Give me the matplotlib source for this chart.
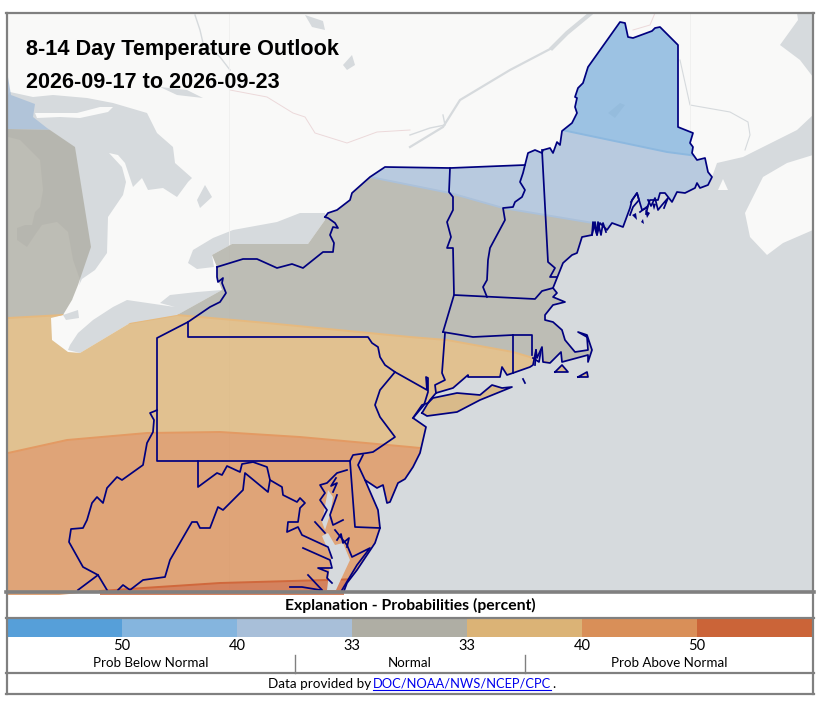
#!/usr/bin/env python3
# 8-14 day outlook map, everything in reference pixel coordinates
import matplotlib
matplotlib.use('Agg')
import matplotlib.pyplot as plt
from matplotlib.patches import Polygon, Rectangle, PathPatch
from matplotlib.path import Path

# base map water
lake_huron = [(10, 92), (33, 97), (53, 95), (87, 98), (113, 103), (147, 113), (157, 133), (173, 147), (175, 163),
              (192, 178), (188, 182), (177, 197), (163, 188), (148, 190), (142, 178), (133, 187), (125, 163),
              (118, 155), (109, 153), (122, 167), (126, 182), (123, 195), (108, 217), (107, 253), (95, 270),
              (82, 279), (72, 300), (8, 300), (8, 95)]
michigan_land = [(8, 137), (20, 140), (30, 150), (40, 160), (43, 190), (40, 207), (35, 212), (32, 225), (25, 225),
                 (17, 228), (17, 240), (27, 247), (35, 235), (42, 225), (57, 222), (68, 232), (73, 260), (80, 280),
                 (78, 295), (72, 300), (63, 315), (8, 320)]
manitoulin = [(35, 113), (47, 113), (77, 113), (100, 107), (113, 107), (108, 112), (80, 118), (60, 117), (37, 118)]
lake_ontario = [(188, 263), (193, 250), (213, 238), (233, 230), (277, 222), (300, 213), (325, 213), (325, 220),
                (308, 244), (232, 244), (212, 255), (214, 267), (197, 269)]
lake_erie = [(68, 350), (80, 353), (130, 323), (177, 315), (222, 290), (197, 292), (170, 295), (160, 303),
             (175, 307), (127, 300), (113, 307), (93, 320), (78, 333), (70, 345)]
lake_st_clair = [(63, 315), (78, 310), (79, 318), (66, 320)]
lake_simcoe = [(197, 200), (205, 185), (212, 197), (200, 208)]
lake_nipissing = [(160, 87), (187, 90), (203, 98), (177, 95)]
north_lakes = [[(305, 15), (323, 21), (325, 30), (312, 27)],
               [(343, 65), (352, 55), (355, 65), (347, 70)],
               [(608, 113), (620, 103), (625, 105), (615, 118)]]
st_lawrence_wide = [(590, 14), (567, 33), (552, 48)]
st_lawrence = [(552, 48), (510, 70), (460, 100), (443, 127), (410, 147)]
ottawa_river = [(195, 15), (200, 30), (203, 43), (220, 57), (230, 70)]
saguenay = [(410, 135), (430, 128), (445, 125), (443, 115)]
st_john_river = [(680, 60), (690, 105), (730, 112), (748, 122), (750, 135), (745, 150)]
canada_border = [(230, 90), (267, 97), (293, 113), (305, 117), (315, 133), (347, 143), (377, 132), (410, 130)]
maine_border_north = [(633, 30), (650, 25), (655, 13)]
ocean_shore_east = [(717, 163), (743, 157), (763, 147), (797, 130), (813, 115)]
gulf_water = [(780, 45), (798, 20), (797, 13), (813, 13), (813, 77), (800, 60)]
nova_scotia = [(813, 155), (787, 163), (763, 177), (745, 213), (750, 237), (767, 255), (783, 243), (813, 230)]
grand_manan = [(718, 190), (723, 179), (728, 190)]

# boundaries of the US outline, west to east
michigan_side = [(8, 77), (11, 95), (35, 104), (33, 117), (47, 128), (75, 147), (91, 247), (78, 285), (72, 300),
                 (63, 315), (51, 318), (52, 340), (68, 352), (80, 353), (130, 323), (177, 315), (222, 290),
                 (217, 277), (217, 267), (212, 255), (232, 244), (308, 244), (325, 220)]
north_coast = [(325, 217), (328, 213), (337, 210), (350, 200), (352, 193), (370, 177), (385, 167), (450, 168),
               (525, 165), (528, 153), (535, 150), (542, 153), (543, 150), (550, 148), (553, 153), (557, 142),
               (560, 145), (562, 131), (572, 123), (577, 113), (575, 107), (577, 98), (575, 97), (578, 88),
               (583, 83), (588, 67), (620, 22), (625, 23), (628, 37), (633, 38), (652, 31), (655, 28), (660, 27),
               (678, 45), (678, 127), (693, 133), (690, 143), (693, 147), (692, 153), (697, 160), (705, 158),
               (708, 172), (712, 177), (708, 185), (700, 188), (697, 183), (695, 188), (685, 193), (677, 192),
               (672, 202), (665, 193), (660, 193), (658, 200), (650, 200), (647, 208), (642, 210), (637, 193),
               (632, 200), (630, 208), (623, 227), (612, 223), (607, 230), (600, 223), (597, 235), (593, 222),
               (592, 235), (582, 237), (577, 253), (572, 255), (563, 263), (557, 278), (553, 288), (557, 293),
               (553, 297), (565, 302), (553, 305), (545, 315), (545, 320), (553, 322), (562, 330), (565, 340),
               (575, 352), (588, 350), (587, 337), (578, 332), (587, 335), (592, 350), (588, 362), (588, 355),
               (562, 362), (561, 352), (550, 363), (543, 362), (542, 347), (537, 358), (536, 350), (533, 365),
               (530, 367), (513, 373), (507, 375), (502, 367), (500, 377), (468, 377), (468, 375), (453, 388),
               (436, 393), (430, 400), (428, 403), (422, 405), (413, 418), (426, 427), (420, 453), (413, 467),
               (405, 479), (398, 483), (390, 502), (387, 503), (383, 485), (377, 488), (365, 480), (378, 510),
               (380, 528), (375, 543), (357, 570), (347, 583), (344, 591)]
long_island = [(422, 413), (428, 403), (433, 398), (457, 393), (480, 395), (492, 385), (502, 388), (512, 387),
               (480, 400), (457, 412), (427, 416)]
marthas_vineyard = [(555, 372), (562, 365), (568, 372)]
nantucket = [(578, 377), (588, 377), (587, 372)]
block_island = [(523, 379), (525, 383)]
maine_islands = [[(632, 215), (636, 213), (637, 220)], [(645, 210), (650, 213), (647, 218)],
                 [(641, 222), (643, 219), (644, 224)], [(652, 203), (656, 204), (654, 210)]]
maine_jags = [[(592, 235), (595, 222), (597, 235), (598, 222), (601, 235), (603, 223), (606, 232)],
              [(631, 202), (637, 193), (639, 200), (633, 207), (630, 215)],
              [(648, 200), (651, 206), (655, 198), (658, 210), (662, 205), (668, 198), (664, 208)],
              [(640, 212), (648, 206), (646, 214)]]
narragansett = [[(536, 350), (535, 365)], [(541, 350), (539, 362), (533, 358)]]

# state lines
ny_lake_west = [(217, 267), (243, 259), (257, 259), (277, 268), (292, 264), (303, 268), (323, 252), (333, 252),
                (334, 243), (330, 235), (333, 227), (338, 228), (335, 223), (328, 218), (325, 217)]
ny_erie_pa = [(217, 267), (217, 277), (218, 282), (223, 278), (222, 283), (226, 293), (220, 302), (210, 307),
              (188, 322), (157, 338), (157, 461), (350, 461)]
pa_ny_line = [(188, 322), (188, 337), (368, 337), (372, 343), (378, 347), (380, 357), (385, 365), (395, 372),
              (380, 390), (375, 405), (380, 417), (395, 437), (373, 452), (367, 453), (353, 455), (350, 461)]
ny_nj_line = [(395, 372), (427, 390), (426, 377), (428, 378), (428, 392), (424, 405), (413, 418)]
de_line = [(350, 461), (355, 527), (380, 528)]
de_arc = [(363, 455), (358, 465), (365, 480)]
ny_ct_line = [(445, 333), (442, 373), (445, 380), (435, 385), (436, 393)]
ma_south = [(443, 332), (473, 337), (513, 335), (532, 335), (532, 355)]
ri_west = [(513, 335), (513, 373)]
ma_north = [(443, 332), (454, 295), (535, 299), (542, 291), (553, 288)]
vt_west = [(450, 168), (449, 192), (453, 197), (453, 210), (447, 222), (451, 237), (447, 248), (453, 248), (454, 295)]
vt_east = [(525, 165), (523, 173), (520, 182), (525, 190), (522, 197), (515, 202), (513, 207), (503, 208),
           (505, 220), (490, 248), (488, 260), (487, 280), (483, 287), (487, 297)]
nh_east = [(542, 150), (548, 262), (555, 268), (550, 277), (557, 277)]
md_north_west = [(198, 461), (198, 487), (217, 473), (222, 475), (227, 466), (240, 472), (242, 464), (253, 462),
                 (267, 467), (270, 480), (282, 487), (283, 495), (297, 502), (300, 498), (305, 503), (300, 508),
                 (298, 522), (288, 522), (287, 532), (298, 527), (302, 535), (328, 547), (332, 558)]
wv_north = [(157, 410), (155, 411), (150, 413), (154, 420), (153, 432), (147, 443), (143, 465), (122, 480),
            (117, 477), (107, 488), (103, 503), (97, 497), (92, 503), (87, 520), (83, 528), (71, 529), (69, 542),
            (83, 567), (98, 575), (107, 590)]
ky_line = [(98, 575), (78, 590)]
wv_east = [(118, 590), (123, 585), (130, 590), (143, 580), (165, 577), (170, 560), (192, 522), (197, 522),
           (200, 528), (210, 528), (218, 507), (223, 510), (243, 490), (245, 473), (268, 492), (270, 480)]
bay_west_lines = [[(303, 548), (330, 560), (332, 568), (318, 568), (328, 572), (327, 578), (332, 583)],
                  [(308, 575), (322, 590)], [(290, 587), (302, 587), (320, 590)], [(315, 522), (325, 533)]]
bay_east_lines = [[(347, 470), (337, 473), (327, 483), (320, 485), (325, 493), (320, 500), (327, 510), (322, 520)],
                  [(337, 495), (330, 515), (333, 525), (343, 520)],
                  [(335, 530), (347, 545), (352, 557), (370, 548), (357, 565), (345, 585), (342, 590)],
                  [(333, 492), (337, 483), (331, 486), (336, 478)],
                  [(337, 540), (341, 534), (343, 543), (349, 538), (347, 547)]]
chesapeake = [(328, 533), (335, 545), (343, 543), (350, 560), (336, 590), (327, 590), (331, 557), (322, 536)]
upper_bay = [(328, 490), (333, 497), (330, 515), (325, 530), (322, 522)]

# outlook band edges
blue40_edge = [(540, 126), (562, 130), (667, 152), (690, 155), (730, 162)]
blue33_edge = [(360, 175), (410, 185), (450, 193), (503, 208), (593, 223), (640, 232)]
left_blue_edge = [(8, 129), (60, 130)]
orange33_edge = [(8, 318), (63, 315), (130, 323), (177, 315), (200, 317), (267, 323), (410, 337), (447, 340),
                 (513, 352), (550, 363), (600, 378)]
orange40_edge = [(8, 453), (67, 440), (147, 433), (220, 432), (300, 437), (410, 447), (440, 450)]
orange50_edge = [(100, 591), (143, 588), (220, 583), (327, 580), (360, 579)]

# legend
legend_edges = [7, 122, 237, 352, 467, 582, 697, 812]
legend_colors = ['#569fd9', '#85b5de', '#a8bfd9', '#afaea4', '#dbb376', '#d98f58', '#cb6438']
legend_ticks = ['50', '40', '33', '33', '40', '50']
legend_groups = ['Prob Below Normal', 'Normal', 'Prob Above Normal']
legend_group_x = [151, 410, 669]
legend_dividers = [295, 525]

LAND = '#f9f9f8'
WATER = '#d6dadd'
LINE = '#00007f'
FRAME = '#808080'
LEGEND_FONT = ['Lato', 'DejaVu Sans']

fig = plt.figure(figsize=(8.22, 7.06), dpi=100)
ax = fig.add_axes([0, 0, 1, 1])
ax.set_xlim(0, 822)
ax.set_ylim(706, 0)
ax.axis('off')

map_box = Rectangle((7, 13), 805, 578, transform=ax.transData)
ax.add_patch(Rectangle((7, 13), 805, 578, fc=LAND, ec='none', zorder=0))


def fill(points, color, z=1, **kw):
    p = Polygon(points, closed=True, fc=color, ec='none', zorder=z, **kw)
    ax.add_patch(p)
    p.set_clip_path(map_box)
    return p


def stroke(points, color=LINE, lw=1.25, z=6, **kw):
    xs, ys = zip(*points)
    ln, = ax.plot(xs, ys, color=color, lw=lw, zorder=z, solid_joinstyle='round', **kw)
    ln.set_clip_path(map_box)
    return ln


# ocean comes from the coast, then round the frame
ocean = north_coast[north_coast.index((712, 177)):] + [(345, 600), (813, 600), (813, 115)] + ocean_shore_east[::-1]
fill(ocean, WATER)
fill(nova_scotia, LAND, z=2)
fill(grand_manan, LAND, z=2)
fill(gulf_water, WATER)
for lake in [lake_huron, lake_ontario, lake_erie, lake_st_clair, lake_simcoe, lake_nipissing]:
    fill(lake, WATER)
fill(manitoulin, LAND, z=2)
fill(michigan_land, LAND, z=2)
for lake in north_lakes:
    fill(lake, WATER)
stroke(st_lawrence_wide, WATER, lw=3, z=2)
stroke(st_lawrence, WATER, lw=1.6, z=2)
stroke(ottawa_river, WATER, lw=1, z=2)
stroke(saguenay, WATER, lw=1, z=2)
stroke(st_john_river, WATER, lw=0.8, z=2)
stroke(canada_border, '#ecd9da', lw=0.7, z=2)
stroke(maine_border_north, '#ecd9da', lw=0.7, z=2)
ax.plot([229, 229], [13, 591], color='#efefee', lw=0.6, zorder=2)
ax.plot([690, 690], [13, 160], color='#efefee', lw=0.6, zorder=2)

# outlook bands clipped to the US outline
outline = michigan_side + north_coast + [(344, 595), (8, 595)]
parts = [Path(outline + [outline[0]], closed=True), Path(long_island + [long_island[0]], closed=True),
         Path(marthas_vineyard + [marthas_vineyard[0]], closed=True), Path(nantucket + [nantucket[0]], closed=True)]
us_path = Path.make_compound_path(*parts)
us_clip = PathPatch(us_path, transform=ax.transData, fc='none', ec='none')

bands = [
    ([(8, 70), (60, 70)] + left_blue_edge[::-1], '#a8bfd9'),
    ([(530, 10), (740, 10)] + blue40_edge[::-1], '#85b5de'),
    (blue40_edge + [(730, 240)] + blue33_edge[::-1], '#a8bfd9'),
    (left_blue_edge + blue33_edge + orange33_edge[::-1], '#afaea4'),
    (orange33_edge + [(600, 460)] + orange40_edge[::-1], '#dbb376'),
    (orange40_edge + [(440, 600)] + orange50_edge[::-1] + [(8, 600)], '#d98f58'),
    (orange50_edge + [(360, 600), (100, 600)], '#cb6438'),
]
for pts, col in bands:
    p = Polygon(pts, closed=True, fc=col, ec='none', alpha=0.8, zorder=3)
    ax.add_patch(p)
    p.set_clip_path(us_clip)
for edge, col in [(blue40_edge, '#8cb8df'), (blue33_edge, '#abc1da'), (orange33_edge, '#e5b97f'),
                  (orange40_edge, '#e39a63'), (orange50_edge, '#d0683c')]:
    ln = stroke(edge, col, lw=1.4, z=4)
    ln.set_clip_path(us_clip)

fill(chesapeake, WATER, z=5)
fill(upper_bay, WATER, z=5)

# state lines
for line in [north_coast, ny_lake_west, ny_erie_pa, pa_ny_line, ny_nj_line, de_line, de_arc, ny_ct_line, ma_south,
             ri_west, ma_north, vt_west, vt_east, nh_east, md_north_west, wv_north, ky_line, wv_east]:
    stroke(line)
for group in [bay_west_lines, bay_east_lines, maine_jags, narragansett]:
    for line in group:
        stroke(line)
for isl in [long_island, marthas_vineyard, nantucket]:
    stroke(isl + isl[:1])
stroke(block_island)
for isl in maine_islands:
    fill(isl, LINE, z=6)

# title
title_font = ['Liberation Sans', 'DejaVu Sans']
ax.text(26, 49, '8-14 Day Temperature Outlook', family=title_font, weight='bold', fontsize=15.6, color='black',
        va='center', ha='left', zorder=8)
ax.text(26, 82, '2026-09-17 to 2026-09-23', family=title_font, weight='bold', fontsize=15.6, color='black',
        va='center', ha='left', zorder=8)

# frame and legend panel
for y in [13, 592, 618, 673, 694]:
    ax.plot([6, 814], [y, y], color=FRAME, lw=1.6 if y != 592 else 2.6, zorder=9)
ax.plot([7, 7], [13, 694], color=FRAME, lw=1.6, zorder=9)
ax.plot([813, 813], [13, 694], color=FRAME, lw=1.6, zorder=9)

ax.text(410, 605, 'Explanation - Probabilities (percent)', family=LEGEND_FONT, weight='bold', fontsize=11.3,
        ha='center', va='center', color='black')
for i, col in enumerate(legend_colors):
    ax.add_patch(Rectangle((legend_edges[i], 619), legend_edges[i + 1] - legend_edges[i], 18, fc=col, ec='none',
                           zorder=2))
for xe, lab in zip(legend_edges[1:-1], legend_ticks):
    ax.text(xe, 646, lab, family=LEGEND_FONT, fontsize=10.5, ha='center', va='center', color='black')
for xc, lab in zip(legend_group_x, legend_groups):
    ax.text(xc, 663, lab, family=LEGEND_FONT, fontsize=9.6, ha='center', va='center', color='black')
for xd in legend_dividers:
    ax.plot([xd, xd], [655, 673], color=FRAME, lw=1, zorder=3)

ax.text(371, 684, 'Data provided by', family=LEGEND_FONT, fontsize=9.75, ha='right', va='center', color='black')
ax.text(373, 684, 'DOC/NOAA/NWS/NCEP/CPC', family=LEGEND_FONT, fontsize=9.3, ha='left', va='center', color='#0000ee')
ax.plot([373, 551], [690, 690], color='#0000ee', lw=0.8)
ax.text(552.5, 684, '.', family=LEGEND_FONT, fontsize=9.75, ha='left', va='center', color='black')

fig.savefig('out.png', dpi=100)
